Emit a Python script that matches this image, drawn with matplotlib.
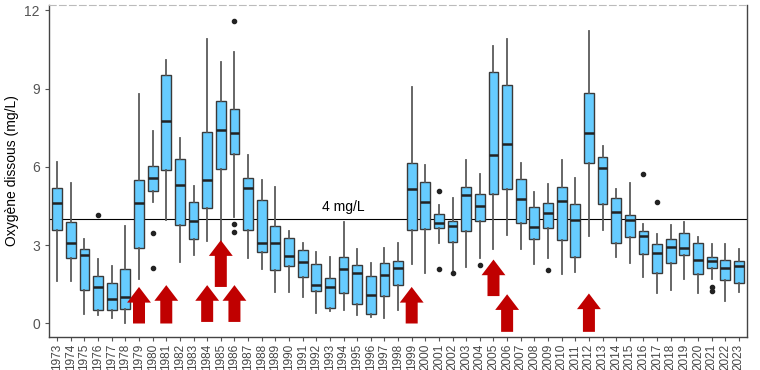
import matplotlib
matplotlib.use("Agg")
import matplotlib.pyplot as plt
import numpy as np

plt.rcParams['font.family'] = ['Liberation Sans', 'DejaVu Sans']

# yearly dissolved oxygen stats (mg/L)
years = list(range(1973, 2024))
whi = [6.17, 5.39, 3.24, 2.46, 2.20, 3.73, 8.79, 7.38, 10.11, 7.09,
       5.27, 10.88, 10.0, 10.41, 6.45, 5.49, 5.21, 3.54, 3.09, 2.72,
       2.55, 3.87, 2.87, 2.30, 2.90, 3.07, 9.07, 6.09, 4.53, 4.80,
       6.25, 5.72, 10.64, 10.91, 6.13, 5.04, 5.35, 6.25, 5.58, 11.19,
       6.78, 5.17, 5.40, 3.81, 3.42, 3.79, 3.90, 3.30, 3.03, 3.05, 2.84]
q3 = [5.20, 3.90, 2.84, 1.81, 1.55, 2.09, 5.49, 6.05, 9.51, 6.30,
      4.64, 7.32, 8.52, 8.21, 5.59, 4.73, 3.75, 3.26, 2.80, 2.29,
      1.76, 2.55, 2.25, 1.81, 2.31, 2.39, 6.14, 5.43, 4.20, 3.91,
      5.22, 4.96, 9.63, 9.14, 5.53, 4.48, 4.62, 5.24, 4.56, 8.81,
      6.37, 4.79, 4.14, 3.56, 3.03, 3.24, 3.45, 3.09, 2.54, 2.45, 2.41]
med = [4.60, 3.08, 2.61, 1.38, 0.92, 1.02, 4.60, 5.56, 7.77, 5.30,
       3.93, 5.49, 7.41, 7.28, 5.19, 3.10, 3.10, 2.58, 2.34, 1.49,
       1.40, 2.07, 1.95, 1.10, 1.84, 2.11, 5.17, 4.67, 3.86, 3.75,
       4.92, 4.51, 6.44, 6.87, 4.75, 3.70, 4.24, 4.69, 3.96, 7.31,
       5.96, 4.28, 3.96, 3.36, 2.69, 2.94, 2.90, 2.45, 2.40, 2.11, 2.20]
q1 = [3.58, 2.49, 1.30, 0.51, 0.51, 0.54, 2.90, 5.07, 5.87, 3.77,
      3.24, 4.41, 5.90, 6.51, 3.58, 2.72, 2.04, 2.22, 1.79, 1.24,
      0.61, 1.17, 0.73, 0.38, 1.06, 1.47, 3.59, 3.63, 3.67, 3.13,
      3.54, 3.91, 4.97, 5.17, 3.84, 3.23, 3.64, 3.19, 2.55, 6.13,
      4.56, 3.09, 3.30, 2.66, 1.95, 2.30, 2.62, 1.88, 2.13, 1.65, 1.55]
wlo = [1.63, 1.63, 0.38, 0.31, 0.20, 0.03, 1.69, 4.66, 3.96, 2.34,
       2.61, 3.17, 3.13, 4.09, 2.49, 2.07, 1.20, 1.20, 1.03, 0.41,
       0.47, 0.51, 0.32, 0.23, 0.22, 0.51, 2.29, 1.94, 3.07, 1.98,
       2.15, 2.49, 2.85, 3.38, 2.86, 2.26, 2.49, 1.89, 1.98, 3.36,
       3.60, 2.55, 2.30, 1.79, 1.15, 1.28, 1.69, 1.15, 1.72, 0.87, 1.20]
outliers = {1976: [4.15], 1980: [3.45, 2.11], 1986: [11.6, 3.81, 3.49],
            2001: [5.07, 2.08], 2002: [1.92], 2004: [2.24], 2009: [2.04],
            2016: [5.73], 2017: [4.67], 2021: [1.38, 1.23]}

# red arrows: year, base, tip
arrow_years = [1979, 1981, 1984, 1985, 1986, 1999, 2005, 2006, 2012]
arrow_base = [0.0, 0.0, 0.06, 1.40, 0.06, 0.0, 1.05, -0.32, -0.32]
arrow_tip = [1.40, 1.47, 1.47, 3.19, 1.47, 1.40, 2.45, 1.12, 1.15]

threshold = 4

stats = []
for i, y in enumerate(years):
    stats.append(dict(med=med[i], q1=q1[i], q3=q3[i], whislo=wlo[i],
                      whishi=whi[i], fliers=outliers.get(y, [])))

fig = plt.figure(figsize=(7.6, 3.7), dpi=100)
ax = fig.add_axes([0.0645, 0.089, 0.9185, 0.8975])

pos = np.arange(1, len(years) + 1)
ax.bxp(stats, positions=pos, widths=0.72, patch_artist=True, showcaps=False,
       boxprops=dict(facecolor='#66CCFF', edgecolor='#3a3a3a', linewidth=1.0),
       medianprops=dict(color='#222222', linewidth=1.8),
       whiskerprops=dict(color='#5a5a5a', linewidth=1.3),
       flierprops=dict(marker='o', markerfacecolor='#222222', markeredgecolor='#222222',
                       markersize=3, linestyle='none'))

ax.axhline(threshold, color='black', linewidth=0.8, zorder=1)
ax.text(years.index(1994) + 1, 4.45, '4 mg/L', ha='center', va='center', fontsize=10)

for y, b, t in zip(arrow_years, arrow_base, arrow_tip):
    ax.arrow(years.index(y) + 1, b, 0, t - b, width=0.88, head_width=1.75,
             head_length=0.6, length_includes_head=True, color='#C00000',
             linewidth=0, zorder=5)

ax.set_xlim(0.4, 51.6)
ax.set_ylim(-0.52, 12.2)
ax.set_yticks([0, 3, 6, 9, 12])
ax.set_xticks(pos)
ax.set_xticklabels([str(y) for y in years], rotation=90, fontsize=8.5, color='#444444')
ax.tick_params(axis='y', labelsize=10, labelcolor='#555555', color='#555555', length=3)
ax.tick_params(axis='x', color='#555555', length=3, pad=2)
ax.set_ylabel('Oxygène dissous (mg/L)', fontsize=10)

for s in ['left', 'bottom', 'right']:
    ax.spines[s].set_color('#444444')
    ax.spines[s].set_linewidth(1.0)
ax.spines['top'].set_color('#bbbbbb')
ax.spines['top'].set_linestyle((0, (6, 3)))

fig.savefig('out.png', dpi=100)
